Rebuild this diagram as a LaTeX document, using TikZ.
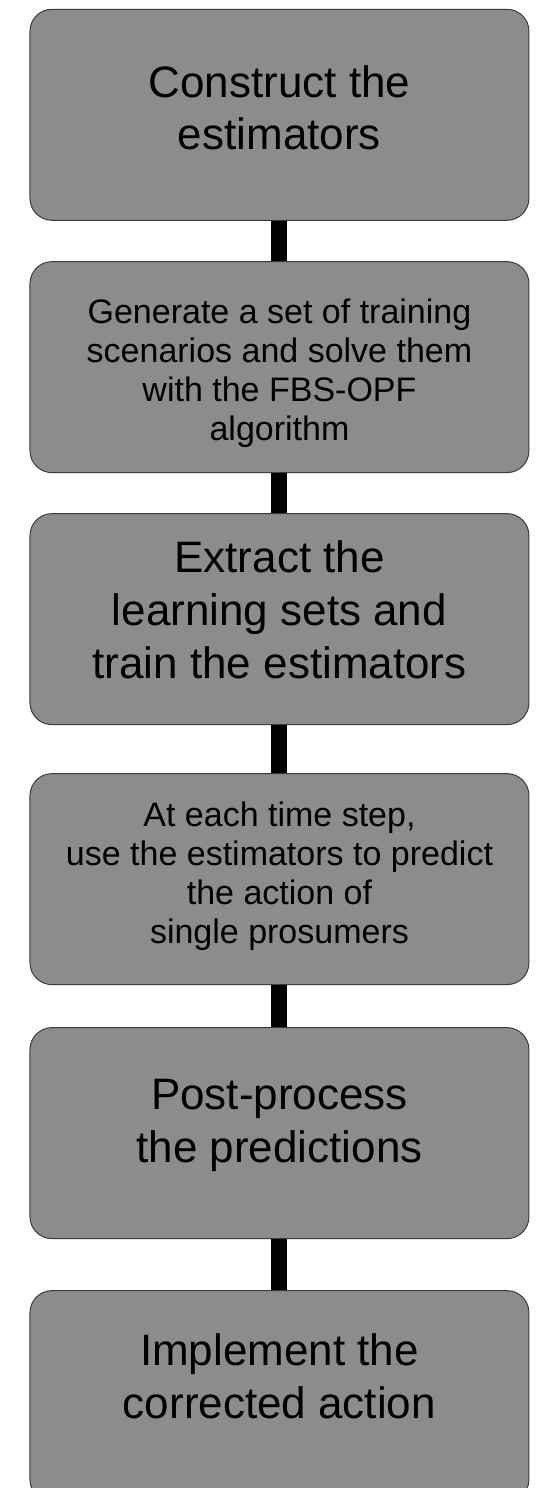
\documentclass[tikz,border=0pt]{standalone}
\usepackage{fontspec}
\setmainfont{Liberation Sans}
\usetikzlibrary{positioning}
\definecolor{BOXFILL}{RGB}{140,140,140}
\definecolor{BOXLINE}{RGB}{60,60,60}
\tikzset{
  stepbox/.style = {
    rectangle, rounded corners=16.5pt, draw=BOXLINE, line width=0.75pt,
    fill=BOXFILL,
    minimum width=374.25pt,
    minimum height=158.25pt,
    inner sep=0pt, align=center
  },
  bigtext/.style = {
    font=\fontsize{33pt}{39.6pt}\selectfont, text height=#1, text depth=0pt
  },
  smalltext/.style = {
    font=\fontsize{25.5pt}{29.25pt}\selectfont, text height=#1, text depth=0pt
  },
  link/.style = {draw=black, line width=12pt}
}

\begin{document}
\begin{tikzpicture}
    \useasboundingbox (0,0) rectangle (405pt,-1116pt);
    \clip (0,0) rectangle (405pt,-1116pt);

    %%% steps
    \node[stepbox,bigtext=52.5pt] (construct) at (209.6pt,-86.1pt)
      {Construct the\\estimators};
    \node[stepbox,smalltext=109.5pt,below=30.25pt of construct] (generate)
      {Generate a set of training\\scenarios and solve them\\with the FBS-OPF\\algorithm};
    \node[stepbox,bigtext=88.5pt,below=30pt of generate] (extract)
      {Extract the\\learning sets and\\train the estimators};
    \node[stepbox,smalltext=96.75pt,below=36pt of extract] (predict)
      {At each time step,\\use the estimators to predict\\the action of\\single prosumers};
    \node[stepbox,bigtext=43.5pt,below=31.5pt of predict] (postproc)
      {Post-process\\the predictions};
    \node[stepbox,bigtext=33.75pt,below=38.25pt of postproc] (implement)
      {Implement the\\corrected action};

    %%% links
    \path[link] (construct.south) -- (generate.north);
    \path[link] (generate.south) -- (extract.north);
    \path[link] (extract.south) -- (predict.north);
    \path[link] (predict.south) -- (postproc.north);
    \path[link] (postproc.south) -- (implement.north);
\end{tikzpicture}
\end{document}
